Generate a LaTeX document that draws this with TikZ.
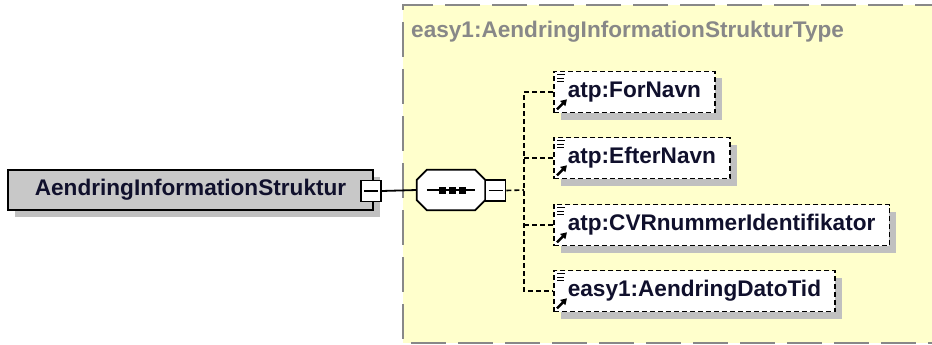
\documentclass[tikz,border=0pt]{standalone}
\usepackage{fontspec}
\setmainfont{Liberation Sans}
\usetikzlibrary{shadows,arrows.meta}
\definecolor{typeyellow}{RGB}{255,255,204}
\definecolor{typeborder}{RGB}{136,136,136}
\definecolor{elemgray}{RGB}{200,200,200}
\definecolor{shadowgray}{RGB}{192,192,192}
\definecolor{inktext}{RGB}{16,16,44}
\newcommand\refmarks[1]{%
  \draw[line width=1.3pt] ([shift={(4,4)}]#1.north west) -- +(8,0)
    ([shift={(4,7.5)}]#1.north west) -- +(7,0)
    ([shift={(4,11)}]#1.north west) -- +(7,0);
  \draw[-{Triangle[length=6pt,width=7pt]},line width=2.4pt] ([shift={(4,-4)}]#1.south west) -- +(10,-10);
}
\newcommand\octpath[1]{([shift={(10,0)}]#1.north west) -- ([shift={(-10,0)}]#1.north east) -- ([shift={(0,10)}]#1.north east)
  -- ([shift={(0,-10)}]#1.south east) -- ([shift={(-10,0)}]#1.south east) -- ([shift={(10,0)}]#1.south west)
  -- ([shift={(0,-10)}]#1.south west) -- ([shift={(0,10)}]#1.north west) -- cycle}
\tikzset{
  shade7/.style={drop shadow={shadow xshift=7pt,shadow yshift=-7pt,fill=shadowgray,opacity=1}},
  xsdfont/.style={font=\bfseries\fontsize{22.6}{26}\selectfont},
  elem/.style={draw,line width=2pt,fill=elemgray,minimum height=40pt,inner xsep=20pt,text=inktext,xsdfont,shade7},
  child/.style={draw,line width=1.6pt,dash pattern=on 5pt off 3pt,fill=white,minimum height=41pt,inner xsep=14pt,text=inktext,xsdfont,shade7},
  minusbox/.style={draw,line width=1.8pt,fill=white,minimum width=20pt,minimum height=21pt,inner sep=0pt,
    path picture={\draw[line width=1.5pt] ([xshift=3pt]path picture bounding box.west) -- ([xshift=-3pt]path picture bounding box.east);}},
  seqbox/.style={minimum width=68pt,minimum height=40pt,inner sep=0pt},
  link/.style={line width=1.6pt,dash pattern=on 5pt off 3pt},
}
\begin{document}
\begin{tikzpicture}[x=1pt,y=-1pt]
\useasboundingbox (0,0) rectangle (932,345);
\fill[typeyellow] (403,5) rectangle (950,343);
\draw[typeborder,line width=2.5pt,dash pattern=on 35pt off 12pt] (950,5) -- (403,5) -- (403,343) -- (950,343);
\node[anchor=west,inner sep=0pt,text=typeborder,xsdfont] (typeName) at (411,32) {easy1:AendringInformationStrukturType};

\node[elem,anchor=west,minimum width=365pt] (root) at (7,190) {AendringInformationStruktur};
\node[minusbox] (rootminus) at (371,191) {};
\node[seqbox] (seq) at (451,190) {};
\fill[shadowgray,shift={(6,6)}] \octpath{seq};
\filldraw[fill=white,line width=1.8pt] \octpath{seq};
\draw[line width=1.5pt] ([xshift=10pt]seq.west) -- ([xshift=-10pt]seq.east);
\foreach \dx in {-9,1,11} \fill ([shift={(\dx-3.5,-3.5)}]seq.center) rectangle +(7,7);
\node[minusbox] (seqminus) at (495.5,190.5) {};
\coordinate (fork) at (524,190);

\node[child,anchor=west] (forNavn) at (553,92) {atp:ForNavn};
\node[child,anchor=west] (efterNavn) at (553,158) {atp:EfterNavn};
\node[child,anchor=west] (cvrNummer) at (553,225) {atp:CVRnummerIdentifikator};
\node[child,anchor=west] (aendringDato) at (553,291) {easy1:AendringDatoTid};
\foreach \c in {forNavn,efterNavn,cvrNummer,aendringDato} {\refmarks{\c}}

\draw[line width=1.8pt] (rootminus.east) -- (seq.west);
\draw[link] (seqminus.east) -- (fork);
\draw[link] (forNavn.west) -| (fork) |- (aendringDato.west);
\draw[link] (fork |- efterNavn.west) -- (efterNavn.west);
\draw[link] (fork |- cvrNummer.west) -- (cvrNummer.west);
\end{tikzpicture}
\end{document}
